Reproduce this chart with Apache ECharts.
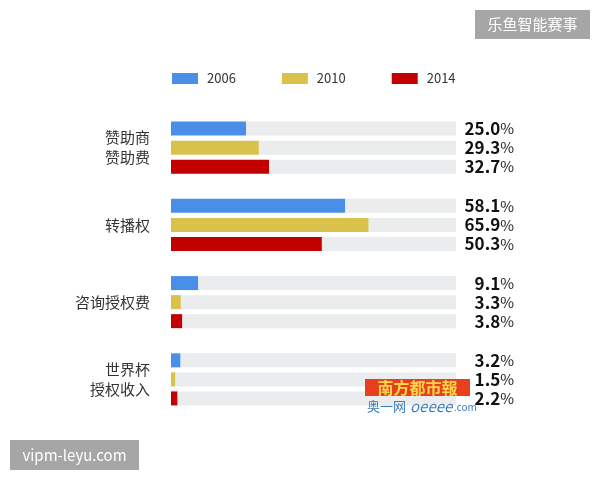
<!DOCTYPE html>
<html>
<head>
<meta charset="utf-8">
<script src="https://cdn.jsdelivr.net/npm/echarts@6/dist/echarts.min.js"></script>
<style>
  html,body{margin:0;padding:0;background:#fff;}
  #chart{width:600px;height:480px;}
</style>
</head>
<body>
<div id="chart"></div>
<script>
  // 分类 / 年份 / 数值(%)
  var categories = ['赞助商\n赞助费', '转播权', '咨询授权费', '世界杯\n授权收入'];
  var years = ['2006', '2010', '2014'];
  var data2006 = [25.0, 58.1, 9.1, 3.2];
  var data2010 = [29.3, 65.9, 3.3, 1.5];
  var data2014 = [32.7, 50.3, 3.8, 2.2];
  var colors = ['#4a8fe7', '#d8c24c', '#c20000'];
  var fullValue = 95; // 灰色底条的总长

  var chart = echarts.init(document.getElementById('chart'));
  var font = '"Noto Sans CJK SC", "Noto Sans", sans-serif';

  var series = [];
  [data2006, data2010, data2014].forEach(function (arr, i) {
    // 彩色数值条
    series.push({
      name: years[i],
      type: 'bar',
      stack: 's' + i,
      barWidth: 14,
      barGap: '36%',
      itemStyle: {color: colors[i]},
      data: arr
    });
    // 灰色剩余部分 + 右侧数值标签(右对齐)
    series.push({
      name: 'bg' + years[i],
      type: 'bar',
      stack: 's' + i,
      barWidth: 14,
      barGap: '36%',
      silent: true,
      itemStyle: {color: '#eaeced'},
      label: {
        show: true,
        position: 'right',
        distance: 6,
        width: 52,
        formatter: function (p) {
          return '{n|' + arr[p.dataIndex].toFixed(1) + '}{p|%}';
        },
        rich: {
          n: {fontSize: 17, fontWeight: 'bold', color: '#111', fontFamily: font, align: 'right'},
          p: {fontSize: 15, color: '#222', fontFamily: font, align: 'right'}
        }
      },
      data: arr.map(function (v) { return fullValue - v; })
    });
  });

  var option = {
    animation: false,
    textStyle: {fontFamily: font},
    legend: {
      data: years,
      left: 172,
      top: 72,
      padding: 0,
      itemWidth: 26,
      itemHeight: 11,
      itemGap: 46,
      icon: 'rect',
      textStyle: {fontSize: 13, color: '#333', fontFamily: font, padding: [0, 0, 0, 4]}
    },
    grid: {left: 171, right: 144, top: 109, bottom: 62},
    xAxis: {
      type: 'value',
      min: 0,
      max: fullValue,
      show: false
    },
    yAxis: {
      type: 'category',
      inverse: true,
      data: categories,
      axisLine: {show: false},
      axisTick: {show: false},
      axisLabel: {
        margin: 21,
        fontSize: 15,
        lineHeight: 20,
        color: '#333',
        fontFamily: font
      }
    },
    graphic: [
      {
        type: 'group', right: 10, top: 10, z: 100,
        children: [
          {type: 'rect', shape: {x: 0, y: 0, width: 115, height: 29}, style: {fill: '#a6a6a6'}},
          {type: 'text', x: 57.5, y: 14.5, style: {text: '乐鱼智能赛事', fill: '#fff', font: '15px ' + font, align: 'center', verticalAlign: 'middle'}}
        ]
      },
      {
        type: 'group', left: 10, top: 440, z: 100,
        children: [
          {type: 'rect', shape: {x: 0, y: 0, width: 129, height: 30}, style: {fill: '#a6a6a6'}},
          {type: 'text', x: 64.5, y: 15, style: {text: 'vipm-leyu.com', fill: '#fff', font: '15px ' + font, align: 'center', verticalAlign: 'middle'}}
        ]
      },
      {
        type: 'group', left: 365, top: 379, z: 100,
        children: [
          {type: 'rect', z: 100, shape: {x: 0, y: 0, width: 105, height: 17}, style: {fill: '#e8401c'}},
          {type: 'text', z: 101, x: 52.5, y: 8.5, style: {text: '南方都市報', fill: '#ffd84a', font: 'bold 16px ' + font, align: 'center', verticalAlign: 'middle'}},
          {type: 'text', z: 101, x: 2, y: 27, style: {text: '奥一网', fill: '#3a7cc0', font: '13px ' + font, verticalAlign: 'middle'}},
          {type: 'text', z: 101, x: 45, y: 27, style: {text: 'oeeee', fill: '#3a7cc0', font: 'italic 15px ' + font, verticalAlign: 'middle'}},
          {type: 'text', z: 101, x: 89, y: 28, style: {text: '.com', fill: '#3a7cc0', font: '10px ' + font, verticalAlign: 'middle'}}
        ]
      }
    ],
    series: series
  };

  chart.setOption(option);
</script>
</body>
</html>
